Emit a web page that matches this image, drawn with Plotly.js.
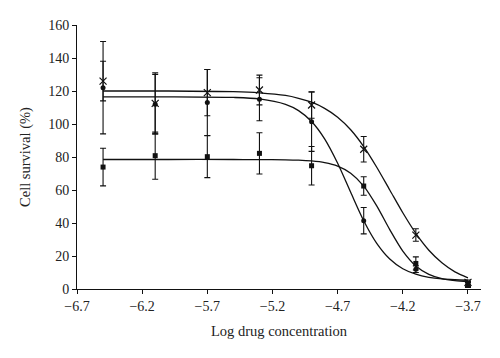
<!DOCTYPE html>
<html>
<head>
<meta charset="utf-8">
<script src="https://cdn.plot.ly/plotly-3.0.1.min.js"></script>
<style>html,body{margin:0;padding:0;background:#fff;}#chart{width:500px;height:358px;}</style>
</head>
<body>
<div id="chart"></div>
<script>
// Measured points (log drug concentration)
const doses = [-6.5, -6.1, -5.7, -5.3, -4.9, -4.5, -4.1, -3.7];
const crossY = [126, 112.5, 119, 120.6, 111.5, 84.7, 32.7, 4];
const crossErr = [12, 18.5, 14, 9, 8, 7.7, 3.8, 1.5];
const dotY = [122, 112, 113, 115, 101.4, 41.4, 12, 3];
const dotErr = [28, 18, 20, 13, 18, 8, 2, 1.5];
const squareY = [73.9, 80.8, 80.2, 82.2, 74.7, 62.4, 15.5, 2.5];
const squareErr = [11.4, 14.3, 12.7, 12.5, 11.7, 5.6, 4, 1.5];

// Fitted curves
const curveX = [-6.5, -6.0, -5.5, -5.3, -5.1, -5.0, -4.9, -4.8, -4.7, -4.6, -4.5, -4.4, -4.3, -4.2, -4.1, -4.0, -3.9, -3.8, -3.7];
const crossCurve = [120, 120, 119.6, 118.9, 117.3, 115.6, 113.2, 109.5, 104.1, 96.5, 86.3, 73.8, 60, 46.2, 33.7, 23.5, 15.9, 10.4, 6.8];
const dotCurve = [116.5, 116.5, 116.1, 115.2, 111.9, 108.1, 101.5, 91, 76.2, 58.6, 41.4, 27.7, 18.2, 12.3, 9, 7.1, 6.1, 5.6, 5.3];
const squareCurve = [78.5, 78.5, 78.5, 78.4, 78.3, 78.1, 77.6, 76.6, 74.5, 70.2, 62.4, 50.4, 36, 23, 14, 8.9, 6.3, 5.1, 4.5];

const xTicks = [-6.7, -6.2, -5.7, -5.2, -4.7, -4.2, -3.7];
const yTicks = [0, 20, 40, 60, 80, 100, 120, 140, 160];

const lineStyle = {color: '#111', width: 1.3, shape: 'spline', smoothing: 0.8};
function curve(y) {
  return {x: curveX, y: y, mode: 'lines', line: lineStyle, hoverinfo: 'skip', showlegend: false};
}
function pts(y, err, symbol, size, lw) {
  return {
    x: doses, y: y, mode: 'markers', showlegend: false,
    marker: {symbol: symbol, size: size, color: '#111', line: {color: '#111', width: lw}},
    error_y: {type: 'data', array: err, visible: true, color: '#111', thickness: 1.1, width: 3}
  };
}

const data = [
  curve(crossCurve), curve(dotCurve), curve(squareCurve),
  pts(squareY, squareErr, 'square', 5, 0),
  pts(dotY, dotErr, 'circle', 5, 0),
  pts(crossY, crossErr, 'x-thin-open', 7, 1.2)
];

const font = {family: '"Liberation Serif", "Times New Roman", serif', size: 14, color: '#222'};
const layout = {
  width: 500, height: 358,
  margin: {l: 77, r: 19, t: 25, b: 69},
  paper_bgcolor: '#fff', plot_bgcolor: '#fff',
  font: font,
  showlegend: false,
  xaxis: {
    range: [-6.7, -3.6], tickvals: xTicks, ticktext: xTicks.map(v => '\u2212' + Math.abs(v).toFixed(1)),
    showgrid: false, zeroline: false, showline: true, linecolor: '#111', linewidth: 1,
    ticks: 'outside', ticklen: 4, tickcolor: '#111', tickfont: font,
    title: {text: 'Log drug concentration', font: {family: font.family, size: 14.5, color: '#222'}, standoff: 13}
  },
  yaxis: {
    range: [0, 160], tickvals: yTicks,
    showgrid: false, zeroline: false, showline: true, linecolor: '#111', linewidth: 1,
    ticks: 'outside', ticklen: 4, tickcolor: '#111', tickfont: font,
    title: {text: 'Cell survival (%)', font: {family: font.family, size: 14.5, color: '#222'}, standoff: 14}
  }
};
Plotly.newPlot('chart', data, layout, {staticPlot: true, displayModeBar: false});
</script>
</body>
</html>
